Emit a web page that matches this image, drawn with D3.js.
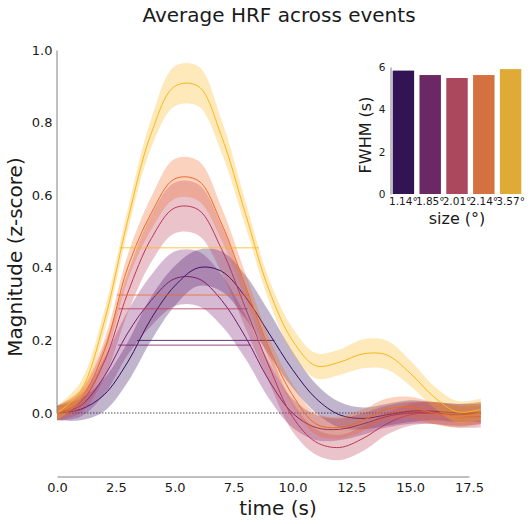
<!DOCTYPE html>
<html>
<head>
<meta charset="utf-8">
<script src="https://cdn.jsdelivr.net/npm/d3@7"></script>
<style>
  html, body { margin: 0; padding: 0; background: #fff; }
  svg { display: block; font-family: "DejaVu Sans", sans-serif; }
</style>
</head>
<body>
<div id="chart"></div>
<script>
// sample times (s)
const times = [0, 1, 2, 3, 4, 5, 6, 7, 8, 9, 10, 11, 12, 13, 14, 15, 16, 17, 18];

// stimulus sizes
const sizes = ["1.14°", "1.85°", "2.01°", "2.14°", "3.57°"];

// mean HRF per size
const hrf114 = [0, 0.01, 0.05, 0.14, 0.26, 0.35, 0.40, 0.39, 0.32, 0.22, 0.12, 0.04, -0.005, -0.015, -0.005, 0.005, 0.005, 0, 0];
const hrf185 = [0, 0.02, 0.10, 0.22, 0.31, 0.37, 0.37, 0.31, 0.21, 0.09, 0.0, -0.04, -0.045, -0.03, -0.01, 0, 0, -0.005, 0];
const hrf201 = [0, 0.03, 0.14, 0.33, 0.48, 0.565, 0.56, 0.45, 0.29, 0.13, -0.01, -0.08, -0.095, -0.07, -0.03, -0.005, 0, -0.01, -0.01];
const hrf214 = [0, 0.04, 0.17, 0.40, 0.55, 0.645, 0.64, 0.52, 0.35, 0.18, 0.05, -0.03, -0.04, -0.02, 0.01, 0.015, 0, -0.01, 0];
const hrf357 = [0, 0.06, 0.25, 0.53, 0.77, 0.90, 0.90, 0.76, 0.55, 0.34, 0.20, 0.13, 0.14, 0.163, 0.16, 0.11, 0.045, 0.003, 0.01];

// half width of the shaded error band
const err114 = [0.02, 0.03, 0.045, 0.055, 0.06, 0.055, 0.05, 0.055, 0.06, 0.06, 0.05, 0.04, 0.035, 0.03, 0.03, 0.03, 0.025, 0.025, 0.025];
const err185 = [0.02, 0.03, 0.05, 0.06, 0.07, 0.075, 0.075, 0.07, 0.06, 0.05, 0.04, 0.035, 0.03, 0.03, 0.03, 0.03, 0.03, 0.03, 0.03];
const err201 = [0.02, 0.03, 0.045, 0.055, 0.065, 0.07, 0.07, 0.065, 0.055, 0.045, 0.04, 0.035, 0.035, 0.035, 0.03, 0.03, 0.03, 0.03, 0.03];
const err214 = [0.02, 0.025, 0.03, 0.035, 0.045, 0.055, 0.055, 0.045, 0.035, 0.03, 0.03, 0.03, 0.03, 0.03, 0.03, 0.03, 0.03, 0.03, 0.03];
const err357 = [0.02, 0.025, 0.03, 0.03, 0.04, 0.055, 0.055, 0.045, 0.035, 0.03, 0.035, 0.035, 0.035, 0.04, 0.04, 0.035, 0.03, 0.03, 0.03];

// FWHM markers: half max level, onset and offset times
const halfMax = [0.20, 0.187, 0.287, 0.325, 0.455];
const fwhmOn = [3.40, 2.60, 2.62, 2.55, 2.68];
const fwhmOff = [9.23, 8.22, 8.10, 8.17, 8.58];

// FWHM (s) per size, inset bars
const fwhm = [5.83, 5.62, 5.48, 5.62, 5.90];

const xTicks = [0, 2.5, 5, 7.5, 10, 12.5, 15, 17.5];
const yTicks = [0, 0.2, 0.4, 0.6, 0.8, 1.0];
const insetTicks = [0, 2, 4, 6];

const means = [hrf114, hrf185, hrf201, hrf214, hrf357];
const errs = [err114, err185, err201, err214, err357];

const width = 532, height = 524;
const textColor = "#1a1a1a";
const spineColor = "#808080";

const lineColors = sizes.map((s, i) => d3.interpolateInferno((i + 1) / 6));
const barColors = lineColors.map(c => {
    const h = d3.hsl(c);
    h.s *= 0.75;
    return h.formatHex();
});

const svg = d3.select("#chart").append("svg")
    .attr("width", width)
    .attr("height", height);

// main axes
const x = d3.scaleLinear().domain([0, 17.5]).range([57, 469]);
const y = d3.scaleLinear().domain([0, 1]).range([413, 50]);

const plot = svg.append("g");

// zero line
plot.append("line")
    .attr("x1", x(0)).attr("x2", x(18))
    .attr("y1", y(0)).attr("y2", y(0))
    .attr("stroke", "#222")
    .attr("stroke-width", 0.8)
    .attr("stroke-dasharray", "1.5,1.5");

const area = d3.area()
    .x(d => x(d.t))
    .y0(d => y(d.v - d.e))
    .y1(d => y(d.v + d.e))
    .curve(d3.curveCatmullRom);

const line = d3.line()
    .x(d => x(d.t))
    .y(d => y(d.v))
    .curve(d3.curveCatmullRom);

means.forEach((vals, i) => {
    const pts = times.map((t, j) => ({ t: t, v: vals[j], e: errs[i][j] }));
    plot.append("path")
        .attr("d", area(pts))
        .attr("fill", lineColors[i])
        .attr("fill-opacity", 0.3);
    plot.append("path")
        .attr("d", line(pts))
        .attr("fill", "none")
        .attr("stroke", lineColors[i])
        .attr("stroke-width", 1);
    plot.append("line")
        .attr("x1", x(fwhmOn[i])).attr("x2", x(fwhmOff[i]))
        .attr("y1", y(halfMax[i])).attr("y2", y(halfMax[i]))
        .attr("stroke", lineColors[i])
        .attr("stroke-opacity", 0.8)
        .attr("stroke-width", 1);
});

// axes
const xAxis = svg.append("g")
    .attr("transform", "translate(0,476.5)")
    .call(d3.axisBottom(x).tickValues(xTicks).tickFormat(d3.format(".1f")).tickSize(0).tickPadding(6));
const yAxis = svg.append("g")
    .attr("transform", "translate(56.5,0)")
    .call(d3.axisLeft(y).tickValues(yTicks).tickFormat(d3.format(".1f")).tickSize(0).tickPadding(4));

[xAxis, yAxis].forEach(ax => {
    ax.select(".domain").attr("stroke", spineColor).attr("stroke-width", 1);
    ax.selectAll("text")
        .attr("fill", textColor)
        .style("font-family", "DejaVu Sans")
        .style("font-size", "13px");
});

svg.append("text")
    .attr("x", 278).attr("y", 515)
    .attr("text-anchor", "middle")
    .attr("fill", textColor)
    .style("font-size", "20px")
    .text("time (s)");

svg.append("text")
    .attr("transform", "translate(22,257) rotate(-90)")
    .attr("text-anchor", "middle")
    .attr("fill", textColor)
    .style("font-size", "20px")
    .text("Magnitude (z-score)");

svg.append("text")
    .attr("x", 279).attr("y", 22)
    .attr("text-anchor", "middle")
    .attr("fill", textColor)
    .style("font-size", "20px")
    .text("Average HRF across events");

// inset bar chart
const xb = d3.scaleBand().domain(sizes).range([390, 524]).paddingInner(0.2).paddingOuter(0.1);
const yb = d3.scaleLinear().domain([0, 6]).range([194, 67]);

svg.append("g").selectAll("rect")
    .data(sizes)
    .join("rect")
    .attr("x", d => xb(d))
    .attr("y", (d, i) => yb(fwhm[i]))
    .attr("width", xb.bandwidth())
    .attr("height", (d, i) => yb(0) - yb(fwhm[i]))
    .attr("fill", (d, i) => barColors[i]);

const ybAxis = svg.append("g")
    .attr("transform", "translate(390.5,0)")
    .call(d3.axisLeft(yb).tickValues(insetTicks).tickFormat(d3.format("d")).tickSize(0).tickPadding(5));
ybAxis.select(".domain").attr("stroke", spineColor);

const xbAxis = svg.append("g")
    .attr("transform", "translate(0,194)")
    .call(d3.axisBottom(xb).tickSize(0).tickPadding(4));
xbAxis.select(".domain").remove();

[xbAxis, ybAxis].forEach(ax => {
    ax.selectAll("text")
        .attr("fill", textColor)
        .style("font-family", "DejaVu Sans")
        .style("font-size", "10.5px");
});

svg.append("text")
    .attr("x", 457).attr("y", 224)
    .attr("text-anchor", "middle")
    .attr("fill", textColor)
    .style("font-size", "16px")
    .text("size (°)");

svg.append("text")
    .attr("transform", "translate(371,135) rotate(-90)")
    .attr("text-anchor", "middle")
    .attr("fill", textColor)
    .style("font-size", "16px")
    .text("FWHM (s)");
</script>
</body>
</html>
